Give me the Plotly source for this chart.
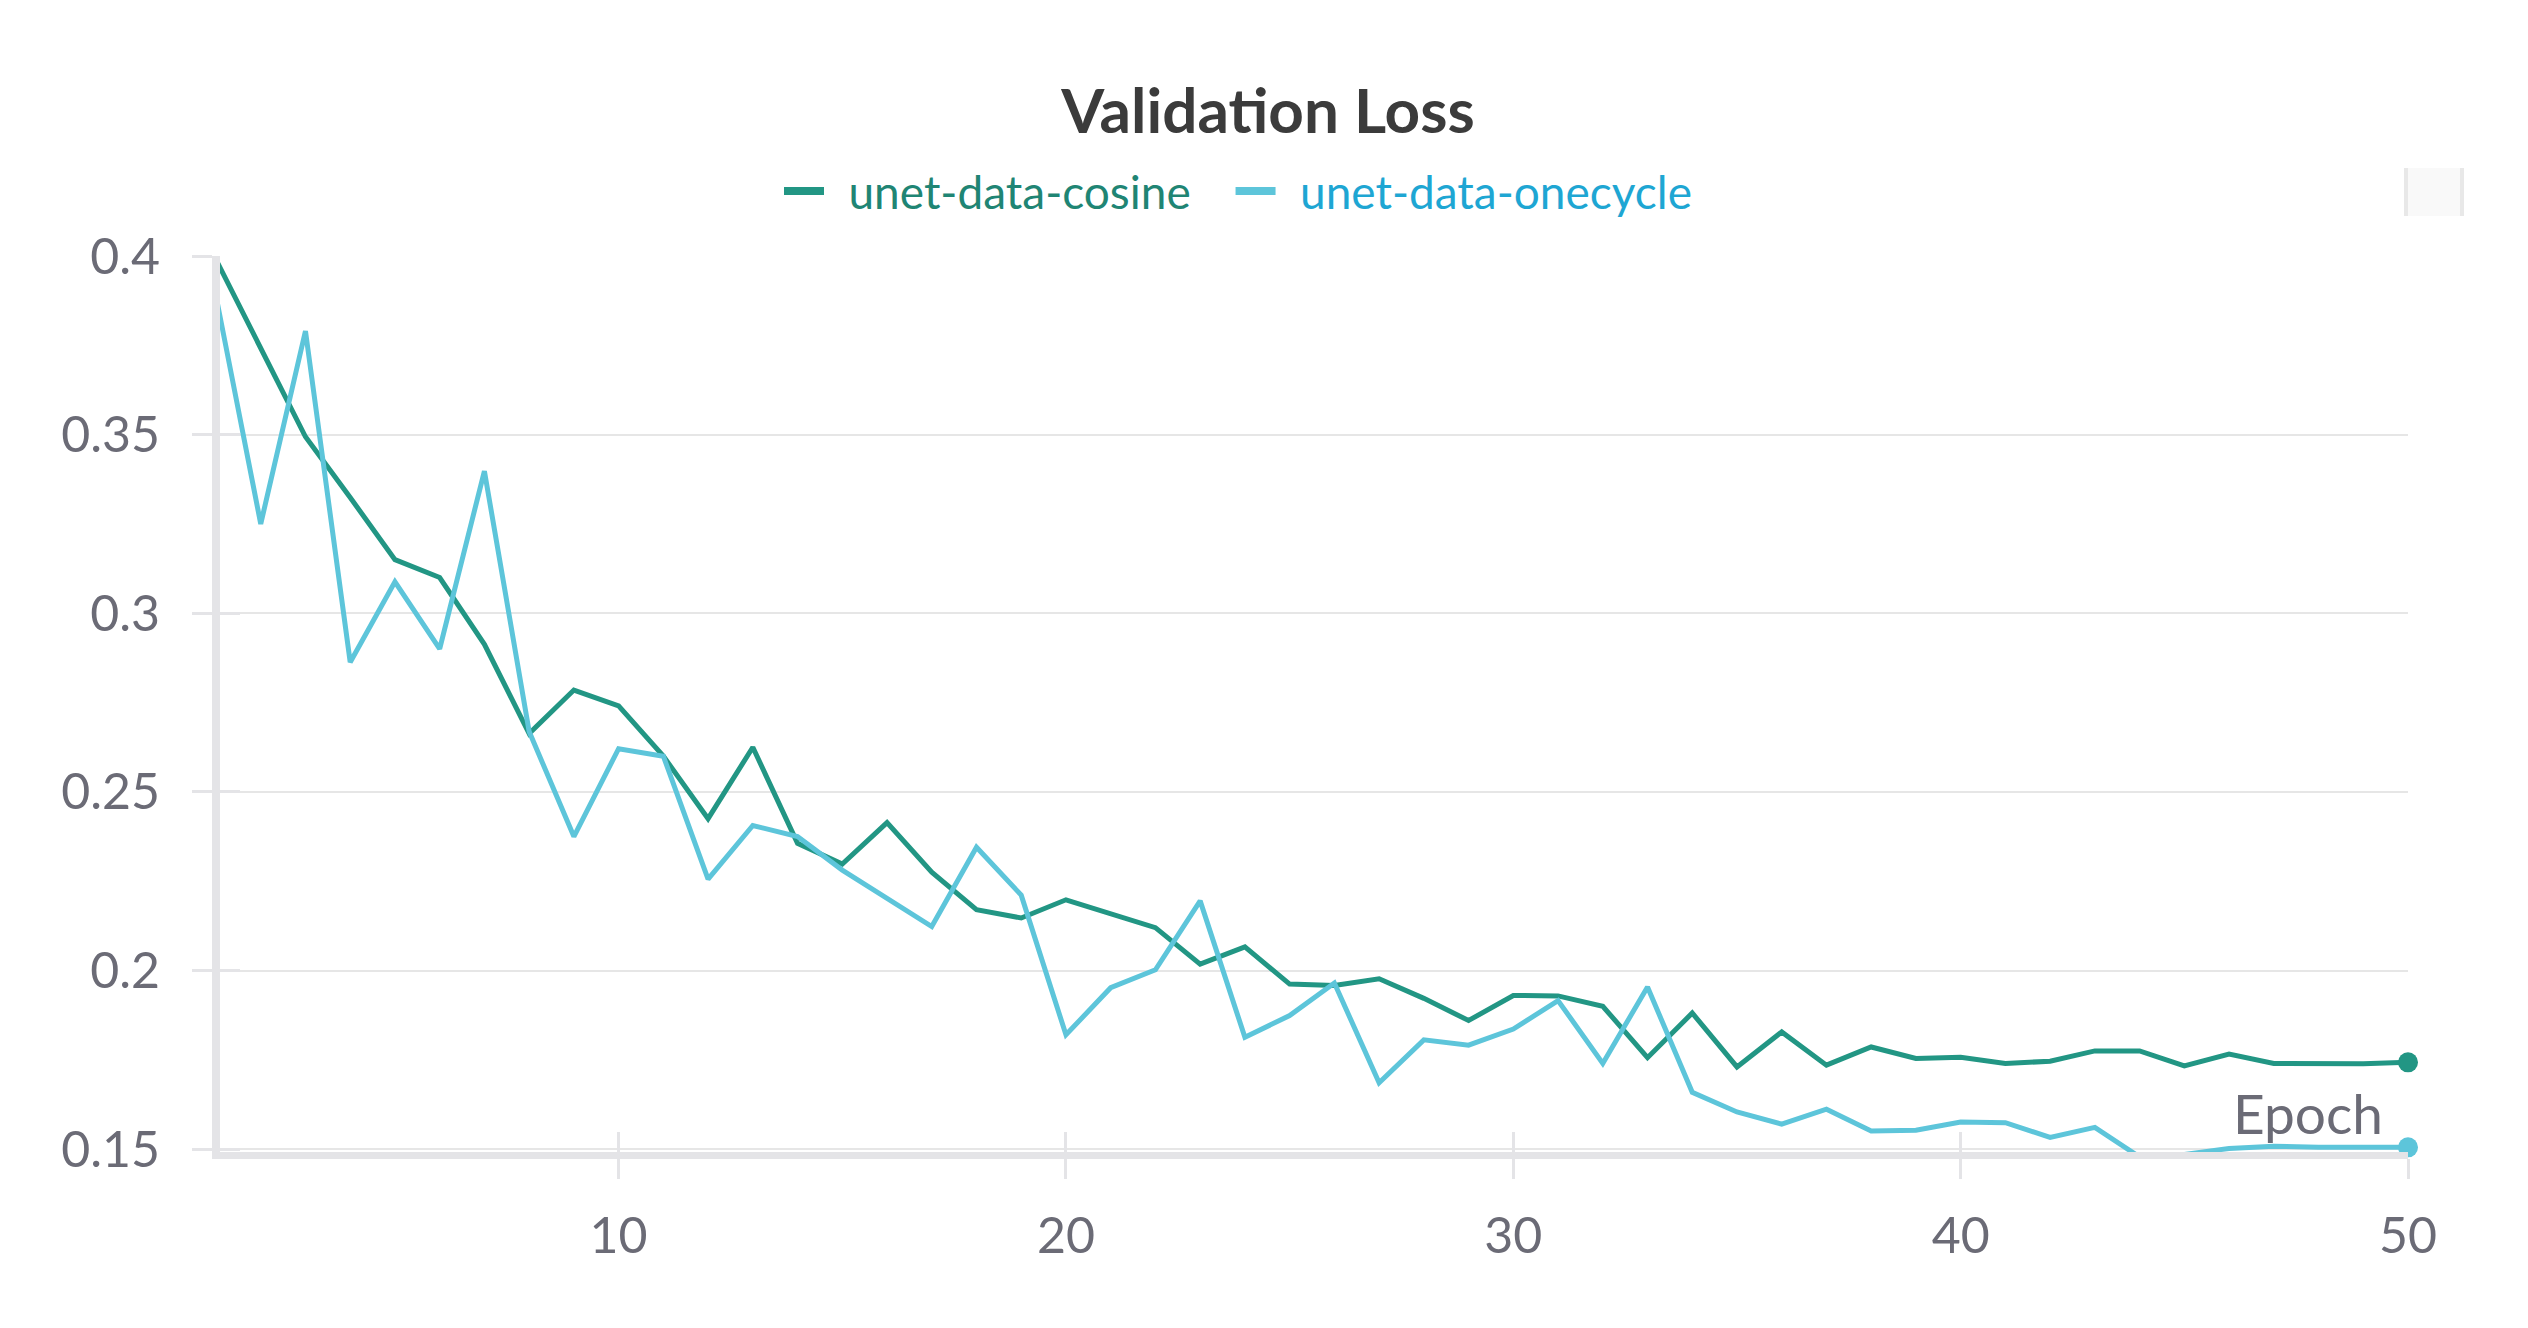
import plotly.graph_objects as go

# ---- data ----
epochs = list(range(1, 51))
cosine = [0.399, 0.3745, 0.3494, 0.3324, 0.315, 0.310, 0.2913, 0.2663, 0.2785, 0.2741,
          0.260, 0.2425, 0.2625, 0.2356, 0.2298, 0.2414, 0.2275, 0.2170, 0.2147, 0.2198,
          0.2160, 0.2120, 0.2018, 0.2066, 0.1962, 0.1958, 0.1977, 0.1922, 0.1860, 0.1930,
          0.1929, 0.1900, 0.1756, 0.1881, 0.1730, 0.1828, 0.1735, 0.1786, 0.1754, 0.1757,
          0.1740, 0.1746, 0.1775, 0.1775, 0.1733, 0.1766, 0.1740, 0.1740, 0.1739, 0.1743]
onecycle = [0.3888, 0.325, 0.379, 0.2863, 0.3088, 0.290, 0.3398, 0.2669, 0.2375, 0.2621,
            0.260, 0.2256, 0.2406, 0.2375, 0.2281, 0.2202, 0.2123, 0.2345, 0.2211, 0.1820,
            0.1952, 0.2002, 0.2195, 0.1813, 0.1874, 0.1965, 0.1686, 0.1806, 0.1791, 0.1836,
            0.1916, 0.1740, 0.1954, 0.1659, 0.1604, 0.1570, 0.1612, 0.1551, 0.1553, 0.1576,
            0.1574, 0.1533, 0.1561, 0.1478, 0.1485, 0.1502, 0.1508, 0.1505, 0.1505, 0.1505]
series_names = ["unet-data-cosine", "unet-data-onecycle"]
x_tickvals = [10, 20, 30, 40, 50]
y_tickvals = [0.15, 0.2, 0.25, 0.3, 0.35, 0.4]
y_ticktext = ["0.15", "0.2", "0.25", "0.3", "0.35", "0.4"]
x_range = [1.0894, 50]
y_range = [0.1492, 0.4]

# ---- style ----
FONT = "Lato, 'Open Sans', sans-serif"
C_COS = "#229684"
C_ONE = "#5dc5da"
C_COS_TXT = "#1f8574"
C_ONE_TXT = "#1ea6d3"
GRID = "#e6e6e6"
AXIS = "#e4e4e7"
TXT = "#6b6b76"
LEAD = "\u00a0\u2006"    # gap between legend symbol and text
TRAIL = "\u2002\u00a0"   # extra gap between legend entries

fig = go.Figure()
# legend-only entries (thicker symbols like the reference)
fig.add_trace(go.Scatter(x=[None], y=[None], mode="lines", line=dict(color=C_COS, width=8),
                         name=f"<span style='color:{C_COS_TXT}'>{LEAD}{series_names[0]}{TRAIL}</span>"))
fig.add_trace(go.Scatter(x=[None], y=[None], mode="lines", line=dict(color=C_ONE, width=8),
                         name=f"<span style='color:{C_ONE_TXT}'>{LEAD}{series_names[1]}</span>"))
# data lines
fig.add_trace(go.Scatter(x=epochs, y=cosine, mode="lines", line=dict(color=C_COS, width=5),
                         showlegend=False, name=series_names[0]))
fig.add_trace(go.Scatter(x=epochs, y=onecycle, mode="lines", line=dict(color=C_ONE, width=5),
                         showlegend=False, name=series_names[1]))
# end markers
fig.add_trace(go.Scatter(x=[epochs[-1]], y=[cosine[-1]], mode="markers", cliponaxis=False,
                         marker=dict(color=C_COS, size=20), showlegend=False))
fig.add_trace(go.Scatter(x=[epochs[-1]], y=[onecycle[-1]], mode="markers", cliponaxis=False,
                         marker=dict(color=C_ONE, size=20), showlegend=False))
# dummy trace for overlay axes (inner tick halves)
fig.add_trace(go.Scatter(x=[], y=[], xaxis="x2", yaxis="y2", showlegend=False, hoverinfo="skip"))

OFF = 8  # page body margin
W, H = 2528, 1328
L, R, T, B = 220 - OFF, 128, 256 - OFF, 184
pw, ph = W - L - R, H - T - B

def px(xs):
    return (xs - OFF - L) / pw

def py(ys):
    return (H - B - (ys - OFF)) / ph

tickfont = dict(family=FONT, size=50, color=TXT)
fig.update_layout(
    width=W, height=H,
    margin=dict(l=L, r=R, t=T, b=B),
    paper_bgcolor="white", plot_bgcolor="white",
    title=dict(text="Validation Loss", x=(1268 - OFF) / W, xanchor="center",
               y=1 - (111 - OFF) / H, yanchor="middle",
               font=dict(family=FONT, size=62, color="#3b3b3b", weight=700)),
    legend=dict(orientation="h", x=px(779), xanchor="left", y=py(191), yanchor="middle",
                font=dict(family=FONT, size=46), bgcolor="rgba(0,0,0,0)",
                itemwidth=40),
    showlegend=True,
    xaxis=dict(range=x_range, tickvals=x_tickvals, ticks="outside", ticklen=20, tickwidth=3,
               tickcolor=AXIS, showline=True, linewidth=7, linecolor=AXIS, showgrid=False,
               zeroline=False, tickfont=tickfont, ticklabelstandoff=14),
    yaxis=dict(range=y_range, tickvals=y_tickvals, ticktext=y_ticktext, ticks="outside",
               ticklen=20, tickwidth=3, tickcolor=AXIS, showline=True, linewidth=8, linecolor=AXIS,
               showgrid=True, gridcolor=GRID, gridwidth=2, zeroline=False, tickfont=tickfont,
               ticklabelstandoff=22),
    xaxis2=dict(range=x_range, tickvals=x_tickvals, ticks="inside", ticklen=20, tickwidth=3,
                tickcolor=AXIS, showticklabels=False, showline=False, showgrid=False,
                zeroline=False, overlaying="x", anchor="y2", side="bottom"),
    yaxis2=dict(range=y_range, tickvals=y_tickvals, ticks="inside", ticklen=20, tickwidth=3,
                tickcolor=AXIS, showticklabels=False, showline=False, showgrid=False,
                zeroline=False, overlaying="y", anchor="x2", side="left"),
    annotations=[dict(text="Epoch", xref="paper", yref="paper", x=px(2385), xanchor="right",
                      y=py(1113), yanchor="middle", showarrow=False,
                      font=dict(family=FONT, size=55, color=TXT))],
    shapes=[dict(type="rect", xref="paper", yref="paper", x0=px(2404), x1=px(2464),
                 y0=py(216), y1=py(168), fillcolor="#f9f9f9", line=dict(width=0), layer="below"),
            dict(type="line", xref="paper", yref="paper", x0=px(2406), x1=px(2406),
                 y0=py(216), y1=py(168), line=dict(color="#e8e8e8", width=4)),
            dict(type="line", xref="paper", yref="paper", x0=px(2462), x1=px(2462),
                 y0=py(216), y1=py(168), line=dict(color="#e8e8e8", width=4))],
)

fig.write_html("out.html")
